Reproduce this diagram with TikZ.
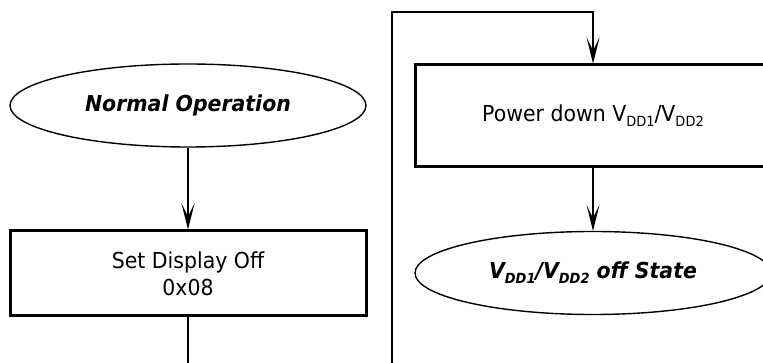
\documentclass[tikz,border=0pt]{standalone}
\usepackage{fontspec}
\setmainfont{DejaVu Sans}[FakeStretch=0.93]
\usetikzlibrary{shapes.geometric,arrows.meta}
\newcommand{\vsub}[1]{\raisebox{-0.22em}{\fontsize{14}{14}\selectfont #1}}

\begin{document}
\begin{tikzpicture}[x=1pt,y=-1pt,font=\fontsize{22}{27}\selectfont,
    state/.style={draw,ellipse,line width=1.4pt,inner sep=0pt,minimum width=356pt,minimum height=83pt},
    stepbox/.style={draw,rectangle,line width=3pt,inner sep=0pt,minimum width=356pt},
    flow/.style={line width=1.6pt,-{Stealth[length=26pt,width=13pt,inset=13pt]}},
    wire/.style={line width=1.6pt}]

  \useasboundingbox (0,0) rectangle (763,363);

  % left column
  \node[state] (normal) at (188,105.5) {\textbf{\textit{Normal Operation}}};
  \node[stepbox,minimum height=85pt,align=center] (dispoff) at (188,273.5) {Set Display Off\\0x08};
  \coordinate (leave) at (188,363);

  % right column
  \node[stepbox,minimum height=102pt] (pwrdown) at (593,116) {Power down V\vsub{DD1}/V\vsub{DD2}};
  \node[state] (offstate) at (593,273) {\textbf{\textit{V\vsub{DD1}/V\vsub{DD2} off State}}};
  \coordinate (enter) at (392,363);
  \coordinate (corner) at (392,12);

  \draw[flow] (normal) -- (dispoff);
  \draw[wire] (dispoff) -- (leave);
  \draw[flow] (enter) -- (corner) -| (pwrdown);
  \draw[flow] (pwrdown) -- (offstate);

\end{tikzpicture}
\end{document}
